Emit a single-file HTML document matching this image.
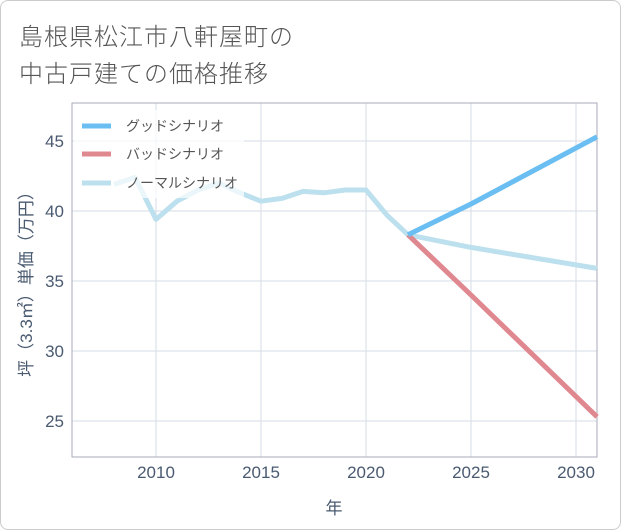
<!DOCTYPE html>
<html><head><meta charset="utf-8"><style>
body{margin:0;background:#fff;}
#wrap{position:relative;width:619px;height:528px;border:1px solid #ccc;border-radius:8px;overflow:hidden;background:#fff;font-family:"Liberation Sans","Noto Sans CJK JP",sans-serif;}
.t{position:absolute;left:18px;font-size:24px;color:#555;font-weight:300;letter-spacing:1px;}
</style></head><body>
<div id="wrap">
<div class="t" style="top:16px">島根県松江市八軒屋町の</div>
<div class="t" style="top:53px">中古戸建ての価格推移</div>
<svg id="c" width="621" height="530" style="position:absolute;left:-1px;top:-1px"></svg>
</div>
<script>
const years=[2008,2009,2010,2011,2012,2013,2014,2015,2016,2017,2018,2019,2020,2021,2022];
const hist=[41.9,42.4,39.4,40.7,41.5,42.0,41.3,40.7,40.9,41.4,41.3,41.5,41.5,39.7,38.3];
const fYears=[2022,2025,2031];
const good=[38.3,40.5,45.3];
const bad=[38.3,34.0,25.3];
const normal=[38.3,37.4,35.9];
const xTicks=[2010,2015,2020,2025,2030];
const yTicks=[25,30,35,40,45];
const NS="http://www.w3.org/2000/svg",svg=document.getElementById('c');
const L=72,R=597,T=103,B=457;
const TC='#4a5a70';
const x=v=>L+(v-2006)*(R-L)/25;
const y=v=>141+(45-v)*14;
function el(t,a){const e=document.createElementNS(NS,t);for(const k in a)e.setAttribute(k,a[k]);svg.appendChild(e);return e;}
for(const v of xTicks){const g=el('line',{x1:x(v),x2:x(v),y1:T,y2:B,stroke:'#d5dde6','stroke-width':1});


const t=el('text',{x:x(v),y:478,'text-anchor':'middle','font-size':17,fill:TC});t.textContent=v;

}
for(const v of yTicks){const g=el('line',{x1:L,x2:R,y1:y(v),y2:y(v),stroke:'#d5dde6','stroke-width':1});


const t=el('text',{x:64,y:y(v)+6,'text-anchor':'end','font-size':17,fill:TC});t.textContent=v;

}
const fr=el('rect',{x:L,y:T,width:R-L,height:B-T,fill:'none',stroke:'#aab','stroke-width':1});


function line(xs,ys,c,n){const p=el('polyline',{points:xs.map((v,i)=>x(v)+','+y(ys[i])).join(' '),fill:'none',stroke:c,'stroke-width':5,'stroke-linejoin':'round'});

}
line(years,hist,'#bde0ee','normal-history-line');
line(fYears,normal,'#bde0ee','normal-scenario-line');
line(fYears,bad,'#e08890','bad-scenario-line');
line(fYears,good,'#6bbef2','good-scenario-line');
const lb=el('rect',{x:74,y:110,width:170,height:88,fill:'#fff','fill-opacity':0.7});


const leg=[['グッドシナリオ','#6bbef2',126],['バッドシナリオ','#e08890',154],['ノーマルシナリオ','#bde0ee',183]];
for(const [n,c,yy] of leg){const l=el('line',{x1:82,x2:111,y1:yy,y2:yy,stroke:c,'stroke-width':5});


const t=el('text',{x:126,y:yy+5,'font-size':14,fill:'#555'});t.textContent=n;

}
const xt=el('text',{x:334,y:514,'text-anchor':'middle','font-size':17,fill:TC});xt.textContent='年';


const yt=el('text',{x:0,y:0,'text-anchor':'middle','font-size':17,fill:TC,transform:'translate(32,280) rotate(-90)'});yt.textContent='坪（3.3㎡）単価（万円）';


</script>
</body></html>
